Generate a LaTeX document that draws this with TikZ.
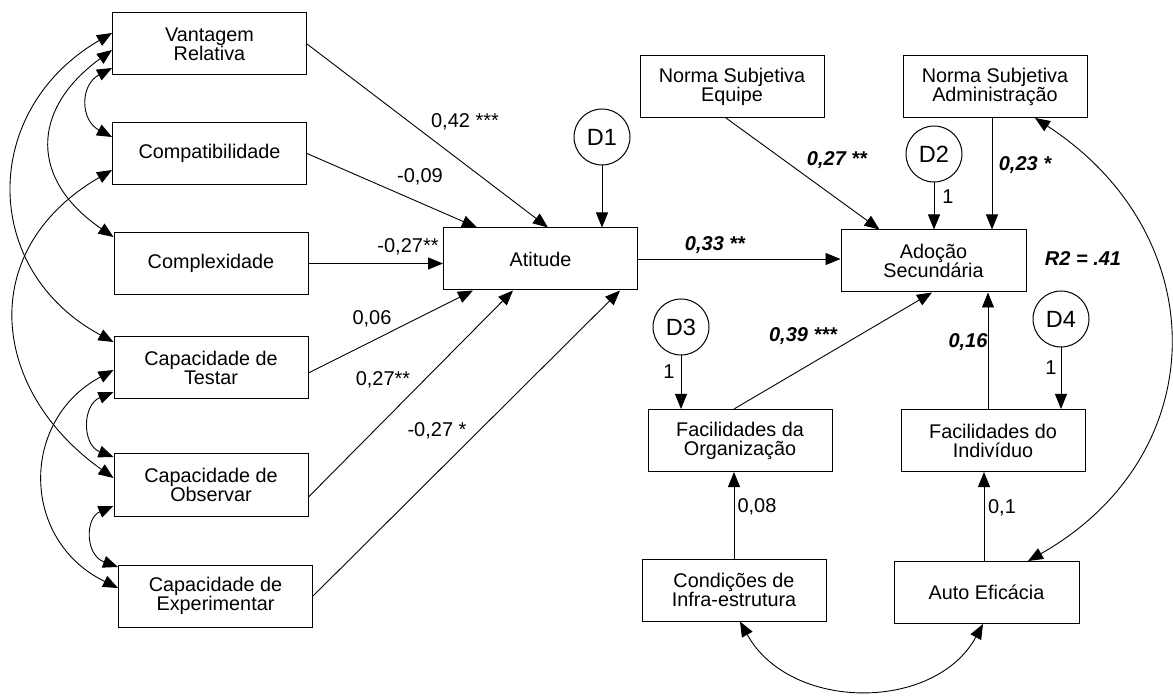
\documentclass[tikz,border=0pt]{standalone}
\usepackage{fontspec}
\setmainfont{Liberation Sans}
\usetikzlibrary{arrows.meta,calc}
\begin{document}
\begin{tikzpicture}[x=1pt,y=-1pt,
  >={Triangle[length=15pt,width=12pt]},
  box/.style={draw,line width=1pt,align=center,inner sep=0pt,minimum width=194pt,minimum height=62pt,font=\fontsize{19.8}{19}\selectfont},
  sbox/.style={box,minimum width=184pt},
  circ/.style={draw,circle,line width=1pt,minimum size=56pt,inner sep=0pt,font=\fontsize{23.5}{23.5}\selectfont},
  con/.style={->,line width=0.9pt},
  cov/.style={<->,line width=0.9pt},
  lab/.style={font=\fontsize{20}{20}\selectfont,inner sep=0pt},
  blab/.style={font=\fontsize{20}{20}\selectfont\bfseries\itshape,inner sep=0pt},
]
\useasboundingbox (0,0) rectangle (1173,700);

% exogenous boxes
\node[box] (vr) at (209.5,44) {Vantagem\\Relativa};
\node[box] (comp) at (209.5,153.5) {Compatibilidade};
\node[box] (cplx) at (211,263.5) {Complexidade};
\node[box] (test) at (211,368) {Capacidade de\\Testar};
\node[box] (obs) at (211,485) {Capacidade de\\Observar};
\node[box] (exp) at (215.5,596) {Capacidade de\\Experimentar};

\node[box] (at) at (540.5,259) {Atitude};
\node[circ] (d1) at (602,137) {D1};

\node[sbox] (nse) at (732,86.5) {Norma Subjetiva\\Equipe};
\node[sbox] (nsa) at (995,86.5) {Norma Subjetiva\\Administração};
\node[circ] (d2) at (934,154) {D2};
\node[sbox,minimum width=185pt] (ad) at (933.5,261) {Adoção\\Secundária};

\node[circ] (d3) at (681,327) {D3};
\node[circ] (d4) at (1061,319) {D4};
\node[sbox] (fo) at (740,440.5) {Facilidades da\\Organização};
\node[sbox] (fi) at (993,440.5) {Facilidades do\\Indivíduo};
\node[sbox] (ci) at (734,590) {Condições de\\Infra-estrutura};
\node[sbox,minimum width=185pt] (ae) at (986.5,592.5) {Auto Eficácia};

% paths into Atitude
\draw[con] (vr.east) -- ($(at.north)+(7.5,0)$);
\draw[con] (comp.east) -- ($(at.north west)+(34,0)$);
\draw[con] (cplx.east) -- (cplx.east -| at.west);
\draw[con] ($(test.east)+(0,5)$) -- ($(at.south west)+(30,0)$);
\draw[con] ($(obs.east)+(0,12)$) -- ($(at.south west)+(70,0)$);
\draw[con] (exp.east) -- ($(at.south east)+(-18,0)$);
\draw[con] (d1) -- (d1 |- at.north);

% paths into Adocao
\draw[con] (at.east) -- (at.east -| ad.west);
\draw[con] ($(nse.south)+(-6,0)$) -- ($(ad.north west)+(39,0)$);
\draw[con] (d2) -- (d2 |- ad.north);
\draw[con] ($(nsa.south)+(-3,0)$) -- ($(ad.north)+(58.5,0)$);
\draw[con] ($(fo.north)+(-6,0)$) -- ($(ad.south)+(-1.5,0)$);
\draw[con] ($(fi.north)+(-5,0)$) -- ($(ad.south)+(54.5,0)$);
\draw[con] (d3) -- (d3 |- fo.north);
\draw[con] (d4) -- (d4 |- fi.north);
\draw[con] (ci.north) -- (ci.north |- fo.south);
\draw[con] ($(ae.north)+(-2.5,0)$) -- ($(fi.south)+(-9,0)$);

% covariances right
\draw[cov] ($(nsa.south)+(40,0)$) .. controls (1215,235) and (1215,455) .. ($(ae.north)+(41.5,0)$);
\draw[cov] ($(ci.south)+(6,0)$) .. controls (790,712) and (935,712) .. ($(ae.south)+(-3.5,0)$);

% covariances left
\draw[cov] ($(vr.west)+(0,24)$) .. controls (80,85) and (80,120) .. ($(comp.west)+(0,-16.5)$);
\draw[cov] ($(vr.west)+(0,6)$) .. controls (30,110) and (30,180) .. ($(cplx.west)+(0,-26.5)$);
\draw[cov] ($(vr.west)+(0,-11)$) .. controls (-20,110) and (-20,270) .. ($(test.west)+(0,-26)$);
\draw[cov] ($(comp.west)+(0,16.5)$) .. controls (-25,250) and (-10,390) .. ($(obs.west)+(0,-7)$);
\draw[cov] ($(test.west)+(0,24)$) .. controls (82,405) and (82,445) .. ($(obs.west)+(0,-28)$);
\draw[cov] ($(test.west)+(0,2)$) .. controls (20,420) and (20,540) .. ($(exp.west)+(0,-8)$);
\draw[cov] ($(obs.west)+(0,21)$) .. controls (85,518) and (85,555) .. ($(exp.west)+(0,-29)$);

% labels
\node[lab] (l1) at (465,122) {0,42 ***};
\node[lab] (l2) at (420,177) {-0,09};
\node[lab] (l3) at (408,247) {-0,27**};
\node[lab] (l4) at (372,319) {0,06};
\node[lab] (l5) at (383,380) {0,27**};
\node[lab] (l6) at (437,431) {-0,27 *};
\node[blab] (l7) at (715,245) {0,33 **};
\node[blab] (l8) at (837,160) {0,27 **};
\node[lab] (l9) at (948,197) {1};
\node[blab] (l10) at (1025,165) {0,23 *};
\node[blab] (l11) at (1083,259) {R2 = .41};
\node[blab] (l12) at (803,336) {0,39 ***};
\node[blab] (l13) at (968,342) {0,16};
\node[lab] (l14) at (669,372) {1};
\node[lab] (l15) at (1051,368) {1};
\node[lab] (l16) at (757,507) {0,08};
\node[lab] (l17) at (1002,508) {0,1};
\end{tikzpicture}
\end{document}
